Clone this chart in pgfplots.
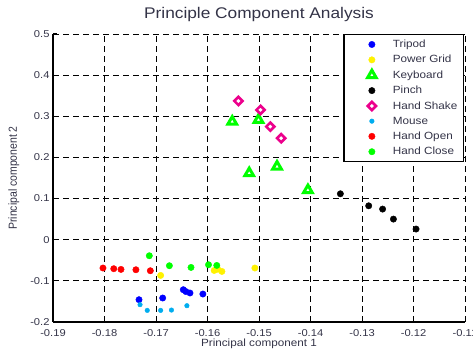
\documentclass[border=0pt]{standalone}
\usepackage{pgfplots}
\pgfplotsset{compat=1.18}
\usepackage{fontspec}
\setmainfont{Liberation Sans}
\definecolor{txt}{rgb}{0.2,0.2,0.28}
\newcommand{\sx}[1]{\scalebox{1.12}[1]{#1}}
\begin{document}
\begin{tikzpicture}
\begin{axis}[
  scale only axis, width=412bp, height=288bp,
  xmin=-0.19, xmax=-0.11, ymin=-0.2, ymax=0.5,
  xtick={-0.19,-0.18,-0.17,-0.16,-0.15,-0.14,-0.13,-0.12,-0.11},
  xticklabels={\sx{-0.19},\sx{-0.18},\sx{-0.17},\sx{-0.16},\sx{-0.15},\sx{-0.14},\sx{-0.13},\sx{-0.12},\sx{-0.11}},
  ytick={-0.2,-0.1,0,0.1,0.2,0.3,0.4,0.5},
  yticklabels={\sx{-0.2},\sx{-0.1},\sx{0},\sx{0.1},\sx{0.2},\sx{0.3},\sx{0.4},\sx{0.5}},
  axis x line=bottom, axis y line=left,
  axis line style={-, line width=1.3pt, black},
  tick align=inside, major tick length=4bp,
  tick style={black, line width=1pt},
  grid=major,
  grid style={black, dash pattern=on 6bp off 4bp, line width=0.9pt},
  tick label style={font=\fontsize{10}{12}\selectfont, text=txt},
  xticklabel style={anchor=base, yshift=-15bp},
  title={\sx{Principle Component Analysis}},
  title style={font=\fontsize{15.5}{18}\selectfont, text=txt, at={(0.5,1)}, anchor=base, yshift=10bp},
  xlabel={\sx{Principal component 1}},
  ylabel={\scalebox{1}[1.12]{Principal component 2}},
  label style={font=\fontsize{10.5}{12}\selectfont, text=txt},
  xlabel style={at={(0.5,0)}, anchor=base, yshift=-25bp},
  ylabel style={at={(0,0.5)}, anchor=base, yshift=36bp},
  legend cell align=left,
  legend image code/.code={\path[draw=none] (-24bp,0bp) -- (19bp,0bp); \draw[#1, /tikz/only marks] plot coordinates {(0bp,0bp)};},
  legend style={at={(1,1)}, anchor=north east, xshift=-1bp, draw=black, line width=1.3pt,
    fill=white, font=\fontsize{10.5}{12}\selectfont, text=txt, inner xsep=4bp, inner ysep=3bp,
    row sep=1.7bp, nodes={inner ysep=2.3bp}},
]
% Tripod
\addplot[only marks, mark=*, mark size=3.2bp, color=blue, line width=0.4pt] coordinates {
(-0.1733,-0.1458) (-0.1687,-0.1417) (-0.1647,-0.1215) (-0.1642,-0.1260) (-0.1634,-0.1295) (-0.1609,-0.1320)};
\addlegendentry{\sx{Tripod}}
% Power Grid
\addplot[only marks, mark=*, mark size=3.2bp, color=yellow, line width=0.4pt] coordinates {
(-0.1691,-0.0868) (-0.1587,-0.0747) (-0.1580,-0.0718) (-0.1572,-0.0771) (-0.1508,-0.0688)};
\addlegendentry{\sx{Power Grid}}
% Keyboard
\addplot[only marks, mark=triangle*, mark size=5bp, color=green, mark options={fill=white, line width=3bp}] coordinates {
(-0.1552,0.2871) (-0.1501,0.2912) (-0.1519,0.1618) (-0.1465,0.1778) (-0.1405,0.1205)};
\addlegendentry{\sx{Keyboard}}
% Pinch
\addplot[only marks, mark=*, mark size=3.2bp, color=black, line width=0.4pt] coordinates {
(-0.1342,0.1116) (-0.1287,0.0824) (-0.1260,0.0744) (-0.1239,0.0501) (-0.1195,0.0259)};
\addlegendentry{\sx{Pinch}}
% Hand Shake
\addplot[only marks, mark=square*, mark size=2.9bp, color=magenta, mark options={rotate=45, fill=white, line width=2.6bp}] coordinates {
(-0.1540,0.3373) (-0.1497,0.3155) (-0.1478,0.2749) (-0.1457,0.2468)};
\addlegendentry{\sx{Hand Shake}}
% Mouse
\addplot[only marks, mark=*, mark size=2.3bp, color=cyan, line width=0.4pt] coordinates {
(-0.1731,-0.1579) (-0.1717,-0.1718) (-0.1691,-0.1718) (-0.1670,-0.1710) (-0.1640,-0.1604)};
\addlegendentry{\sx{Mouse}}
% Hand Open
\addplot[only marks, mark=*, mark size=3.2bp, color=red, line width=0.4pt] coordinates {
(-0.1803,-0.0688) (-0.1782,-0.0705) (-0.1768,-0.0722) (-0.1739,-0.0730) (-0.1711,-0.0754)};
\addlegendentry{\sx{Hand Open}}
% Hand Close
\addplot[only marks, mark=*, mark size=3.2bp, color=green, line width=0.4pt] coordinates {
(-0.1713,-0.0390) (-0.1674,-0.0632) (-0.1632,-0.0674) (-0.1598,-0.0608) (-0.1582,-0.0625)};
\addlegendentry{\sx{Hand Close}}
\end{axis}
\pgfresetboundingbox
\path[use as bounding box] ([shift={(-53bp,-30bp)}]current axis.south west) rectangle ([shift={(8bp,34bp)}]current axis.north east);
\end{tikzpicture}
\end{document}
